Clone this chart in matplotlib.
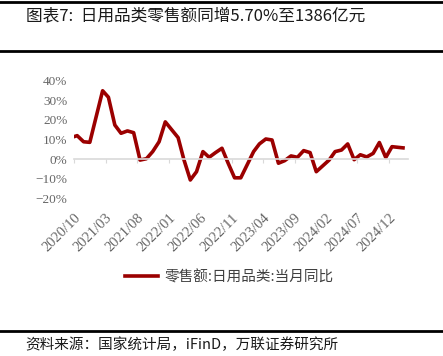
import matplotlib
matplotlib.use('Agg')
import matplotlib.pyplot as plt
from matplotlib.lines import Line2D
import pandas as pd

plt.rcParams['font.family'] = ['Noto Sans CJK SC', 'DejaVu Sans']

# 日用品类零售额 当月同比 (%), 1月与2月合并公布, 1月无数据
months = [
    '2020-09', '2020-10', '2020-11', '2020-12',
    '2021-02', '2021-03', '2021-04', '2021-05', '2021-06', '2021-07', '2021-08',
    '2021-09', '2021-10', '2021-11', '2021-12',
    '2022-02', '2022-03', '2022-04', '2022-05', '2022-06', '2022-07', '2022-08',
    '2022-09', '2022-10', '2022-11', '2022-12',
    '2023-02', '2023-03', '2023-04', '2023-05', '2023-06', '2023-07', '2023-08',
    '2023-09', '2023-10', '2023-11', '2023-12',
    '2024-02', '2024-03', '2024-04', '2024-05', '2024-06', '2024-07', '2024-08',
    '2024-09', '2024-10', '2024-11', '2024-12',
    '2025-02',
]
yoy = [
    11.0, 12.0, 8.9, 8.6,
    34.8, 31.5, 17.4, 13.2, 14.4, 13.5, -0.4,
    0.3, 3.9, 8.9, 19.0,
    11.0, -0.2, -10.5, -6.3, 3.9, 1.0, 3.4,
    5.6, -2.0, -9.4, -9.4,
    3.9, 7.8, 10.3, 9.8, -2.0, -0.7, 1.7,
    1.0, 4.4, 3.4, -6.3,
    -0.4, 3.9, 4.7, 7.8, -0.2, 2.3, 1.2,
    3.0, 8.5, 0.9, 6.4,
    5.7,
]
tick_labels = ['2020/10', '2021/03', '2021/08', '2022/01', '2022/06', '2022/11',
               '2023/04', '2023/09', '2024/02', '2024/07', '2024/12']
y_ticks = [-20, -10, 0, 10, 20, 30, 40]

title = '图表7:  日用品类零售额同增5.70%至1386亿元'
source = '资料来源：国家统计局，iFinD，万联证券研究所'
legend_label = '零售额:日用品类:当月同比'

dates = pd.to_datetime(months) + pd.Timedelta(days=14)
tick_dates = pd.to_datetime(tick_labels, format='%Y/%m')

fig = plt.figure(figsize=(4.43, 3.56), dpi=100)
ax = fig.add_axes([0.1677, 0.4419, 0.7526, 0.332])

ax.plot(dates, yoy, color='#9B0000', lw=2.6, solid_joinstyle='round',
        solid_capstyle='butt')

ax.set_xlim(pd.Timestamp('2020-10-01'), pd.Timestamp('2025-03-01'))
ax.set_ylim(-20, 40)
ax.set_yticks(y_ticks)
ax.set_yticklabels([f'{v}%'.replace('-', '\u2212') for v in y_ticks],
                   family='Liberation Serif', fontsize=9.5, color='#666666')
ax.tick_params(axis='y', length=0, pad=5)

for s in ['top', 'right', 'left']:
    ax.spines[s].set_visible(False)
ax.spines['bottom'].set_position(('data', 0))
ax.spines['bottom'].set_color('#D9D9D9')
ax.spines['bottom'].set_linewidth(1.2)
ax.set_xticks(tick_dates)
ax.tick_params(axis='x', direction='out', length=3, color='#D9D9D9',
               labelbottom=False)

sec = ax.secondary_xaxis(0)
sec.set_xticks(tick_dates)
sec.set_xticklabels(tick_labels, rotation=45, ha='right', rotation_mode='anchor',
                    family='Liberation Serif', fontsize=10.5, color='#666666')
sec.tick_params(length=0, pad=9)
sec.spines['bottom'].set_visible(False)
ax.set_zorder(2)

handle = Line2D([], [], color='#9B0000', lw=2.6)
fig.legend([handle], [legend_label], loc='center', bbox_to_anchor=(0.517, 0.222),
           frameon=False, fontsize=10.5, handlelength=2.3, handletextpad=0.4,
           labelcolor='#404040')

fig.text(0.058, 0.955, title, fontsize=12, va='center', ha='left', color='#1a1a1a')
fig.text(0.058, 0.031, source, fontsize=10.5, va='center', ha='left', color='#1a1a1a')

for yy in [0.995, 0.856, 0.069]:
    fig.add_artist(Line2D([0, 1], [yy, yy], color='black', lw=2.0,
                          transform=fig.transFigure))

fig.savefig('out.png', dpi=100, facecolor='white')
